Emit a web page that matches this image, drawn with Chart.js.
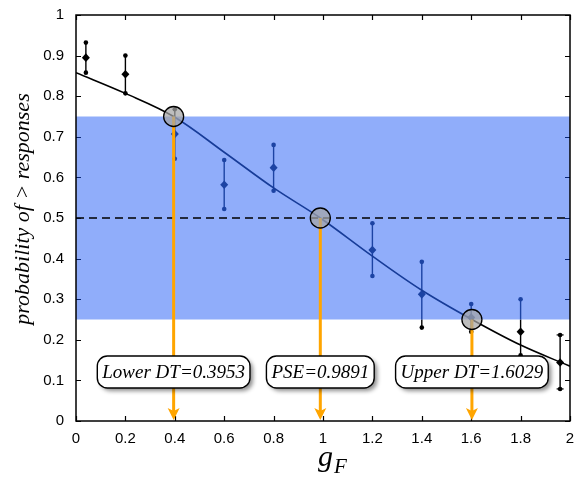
<!DOCTYPE html>
<html>
<head>
<meta charset="utf-8">
<script src="https://cdn.jsdelivr.net/npm/chart.js@4/dist/chart.umd.min.js"></script>
<style>
html,body{margin:0;padding:0;background:#fff;}
#wrap{width:577px;height:478px;}
</style>
</head>
<body>
<div id="wrap"><canvas id="c" width="577" height="478"></canvas></div>
<script>
// ---- data ----
const xTicks = [0, 0.2, 0.4, 0.6, 0.8, 1, 1.2, 1.4, 1.6, 1.8, 2];
const yTicks = [0, 0.1, 0.2, 0.3, 0.4, 0.5, 0.6, 0.7, 0.8, 0.9, 1];

const errX    = [0.04, 0.2, 0.4, 0.6, 0.8, 1.2, 1.4, 1.6, 1.8, 1.96];
const errMean = [0.895, 0.854, 0.707, 0.582, 0.624, 0.421, 0.312, 0.255, 0.22, 0.144];
const errLo   = [0.858, 0.807, 0.646, 0.522, 0.567, 0.357, 0.23, 0.22, 0.162, 0.079];
const errHi   = [0.932, 0.900, 0.768, 0.643, 0.680, 0.487, 0.392, 0.288, 0.300, 0.212];

const fitX = [0, 0.2, 0.3953, 0.6, 0.8, 0.9891, 1.2, 1.4, 1.6029, 1.8, 2.0];
const fitY = [0.858, 0.807, 0.75, 0.662, 0.574, 0.5, 0.406, 0.322, 0.25, 0.187, 0.135];

const bandLow = 0.25, bandHigh = 0.75, refLine = 0.5;
const markNames  = ['Lower DT', 'PSE', 'Upper DT'];
const markX      = [0.3953, 0.9891, 1.6029];
const markY      = [0.75, 0.5, 0.25];
const markLabels = ['0.3953', '0.9891', '1.6029'];

const yTitle = 'probability of > responses';
const xTitleMain = 'g', xTitleSub = 'F';

// ---- styles ----
const BLUE = '#1c43a3';
const CURVE_BLUE = '#173c98';
const ORANGE = '#ffa500';
const inBand = v => v >= bandLow - 1e-6 && v <= bandHigh + 1e-6;

const custom = {
  id: 'custom',
  beforeDatasetsDraw(chart) {
    const {ctx, chartArea: a, scales: {x, y}} = chart;
    ctx.save();
    // inward ticks
    ctx.strokeStyle = '#000'; ctx.lineWidth = 1.2;
    ctx.beginPath();
    xTicks.forEach(v => {
      const px = Math.round(x.getPixelForValue(v)) + 0.5;
      ctx.moveTo(px, a.bottom); ctx.lineTo(px, a.bottom - 5);
      ctx.moveTo(px, a.top); ctx.lineTo(px, a.top + 5);
    });
    yTicks.forEach(v => {
      const py = Math.round(y.getPixelForValue(v)) + 0.5;
      ctx.moveTo(a.left, py); ctx.lineTo(a.left + 5, py);
      ctx.moveTo(a.right, py); ctx.lineTo(a.right - 5, py);
    });
    ctx.stroke();
    // band
    const yTop = y.getPixelForValue(bandHigh), yBot = y.getPixelForValue(bandLow);
    ctx.fillStyle = 'rgba(20,80,245,0.47)';
    ctx.fillRect(a.left, yTop, a.right - a.left, yBot - yTop);
    // dashed reference
    ctx.setLineDash([8, 5]);
    ctx.lineWidth = 1.3; ctx.strokeStyle = '#000';
    ctx.beginPath();
    const yr = y.getPixelForValue(refLine);
    ctx.moveTo(a.left, yr); ctx.lineTo(a.right, yr);
    ctx.stroke();
    ctx.setLineDash([]);
    // error bars
    const seg = (px, v0, v1, col) => {
      if (v1 <= v0) return;
      ctx.strokeStyle = col; ctx.lineWidth = 1.4;
      ctx.beginPath();
      ctx.moveTo(px, y.getPixelForValue(v0));
      ctx.lineTo(px, y.getPixelForValue(v1));
      ctx.stroke();
    };
    errX.forEach((xv, i) => {
      const px = x.getPixelForValue(xv);
      const lo = errLo[i], hi = errHi[i], m = errMean[i];
      seg(px, lo, Math.min(hi, bandLow), '#000');
      seg(px, Math.max(lo, bandLow), Math.min(hi, bandHigh), BLUE);
      seg(px, Math.max(lo, bandHigh), hi, '#000');
      [lo, hi].forEach(v => {
        const c = inBand(v) ? BLUE : '#000';
        ctx.fillStyle = c;
        ctx.beginPath();
        ctx.arc(px, y.getPixelForValue(v), 2.3, 0, Math.PI * 2);
        ctx.fill();
        if (i === errX.length - 1) {
          ctx.strokeStyle = c; ctx.lineWidth = 1.2;
          ctx.beginPath();
          ctx.moveTo(px - 3.5, y.getPixelForValue(v));
          ctx.lineTo(px + 3.5, y.getPixelForValue(v));
          ctx.stroke();
        }
      });
      ctx.fillStyle = inBand(m) ? BLUE : '#000';
      const py = y.getPixelForValue(m);
      ctx.beginPath();
      ctx.moveTo(px, py - 4.3); ctx.lineTo(px + 4, py);
      ctx.lineTo(px, py + 4.3); ctx.lineTo(px - 4, py);
      ctx.closePath(); ctx.fill();
    });
    ctx.restore();
  },
  afterDatasetsDraw(chart) {
    const {ctx, chartArea: a, scales: {x, y}} = chart;
    ctx.save();
    // orange arrows
    markX.forEach((xv, i) => {
      const px = x.getPixelForValue(xv);
      const py0 = y.getPixelForValue(markY[i]);
      const tip = a.bottom - 1;
      ctx.strokeStyle = ORANGE; ctx.lineWidth = 3;
      ctx.beginPath();
      ctx.moveTo(px, py0); ctx.lineTo(px, tip - 8);
      ctx.stroke();
      ctx.fillStyle = ORANGE;
      ctx.beginPath();
      ctx.moveTo(px - 6, tip - 12);
      ctx.lineTo(px, tip - 9);
      ctx.lineTo(px + 6, tip - 12);
      ctx.lineTo(px, tip);
      ctx.closePath(); ctx.fill();
    });
    // circles
    markX.forEach((xv, i) => {
      const px = x.getPixelForValue(xv);
      const py = y.getPixelForValue(markY[i]);
      ctx.fillStyle = 'rgba(165,165,165,0.72)';
      ctx.strokeStyle = '#000'; ctx.lineWidth = 1.3;
      ctx.beginPath(); ctx.arc(px, py, 10, 0, Math.PI * 2);
      ctx.fill(); ctx.stroke();
    });
    // label boxes
    ctx.font = 'italic 19px "Liberation Serif", "DejaVu Serif", serif';
    ctx.textAlign = 'center'; ctx.textBaseline = 'middle';
    const labelY = y.getPixelForValue(0.1207);
    markX.forEach((xv, i) => {
      const txt = markNames[i] + '=' + markLabels[i];
      const px = x.getPixelForValue(xv);
      const w = ctx.measureText(txt).width + 10, h = 32;
      ctx.save();
      ctx.shadowColor = 'rgba(0,0,0,0.45)';
      ctx.shadowBlur = 4; ctx.shadowOffsetX = 3; ctx.shadowOffsetY = 3;
      ctx.fillStyle = '#fff';
      ctx.beginPath();
      ctx.roundRect(px - w / 2, labelY - h / 2, w, h, 10);
      ctx.fill();
      ctx.restore();
      ctx.strokeStyle = '#000'; ctx.lineWidth = 1.4;
      ctx.beginPath();
      ctx.roundRect(px - w / 2, labelY - h / 2, w, h, 10);
      ctx.stroke();
      ctx.fillStyle = '#000';
      ctx.fillText(txt, px, labelY + 1);
    });
    // frame
    ctx.strokeStyle = '#000'; ctx.lineWidth = 1.5;
    ctx.strokeRect(a.left, a.top, a.right - a.left, a.bottom - a.top);
    // y title
    ctx.save();
    ctx.translate(23, 209);
    ctx.rotate(-Math.PI / 2);
    ctx.font = 'italic 22px "Liberation Serif", "DejaVu Serif", serif';
    ctx.textAlign = 'center'; ctx.textBaseline = 'middle';
    ctx.fillStyle = '#000';
    ctx.fillText(yTitle, 0, 0);
    ctx.restore();
    // x title with subscript
    ctx.fillStyle = '#000';
    ctx.textAlign = 'left'; ctx.textBaseline = 'alphabetic';
    ctx.font = 'italic 30px "Liberation Serif", "DejaVu Serif", serif';
    const gx = 318;
    ctx.fillText(xTitleMain, gx, 466);
    const gw = ctx.measureText(xTitleMain).width;
    ctx.font = 'italic 21px "Liberation Serif", "DejaVu Serif", serif';
    ctx.fillText(xTitleSub, gx + gw + 1, 473);
    ctx.restore();
  }
};

new Chart(document.getElementById('c'), {
  type: 'scatter',
  data: {
    datasets: [{
      data: fitX.map((v, i) => ({x: v, y: fitY[i]})),
      showLine: true,
      pointRadius: 0,
      borderWidth: 1.6,
      borderColor: '#000',
      tension: 0.35,
      segment: {
        borderColor: c => (inBand(c.p0.parsed.y) && inBand(c.p1.parsed.y)) ? CURVE_BLUE : '#000'
      }
    }]
  },
  options: {
    responsive: false,
    animation: false,
    layout: {padding: {left: 0, right: 7, top: 15, bottom: 0}},
    plugins: {legend: {display: false}, tooltip: {enabled: false}, title: {display: false}},
    scales: {
      x: {
        type: 'linear', min: 0, max: 2,
        grid: {display: false, drawTicks: false},
        border: {display: false},
        afterBuildTicks: s => { s.ticks = xTicks.map(v => ({value: v})); },
        afterFit: s => { s.height = 57; s.paddingLeft = 0; s.paddingRight = 0; s.paddingTop = 0; s.paddingBottom = 0; },
        ticks: {
          padding: 9, color: '#000', maxRotation: 0, autoSkip: false,
          font: {family: '"Liberation Sans", Arial, sans-serif', size: 15},
          callback: v => String(v)
        }
      },
      y: {
        type: 'linear', min: 0, max: 1,
        grid: {display: false, drawTicks: false},
        border: {display: false},
        afterBuildTicks: s => { s.ticks = yTicks.map(v => ({value: v})); },
        afterFit: s => { s.width = 76; s.paddingLeft = 0; s.paddingRight = 0; s.paddingTop = 0; s.paddingBottom = 0; },
        ticks: {
          padding: 12, color: '#000', autoSkip: false,
          font: {family: '"Liberation Sans", Arial, sans-serif', size: 15},
          callback: v => String(v)
        }
      }
    }
  },
  plugins: [custom]
});
</script>
</body>
</html>
